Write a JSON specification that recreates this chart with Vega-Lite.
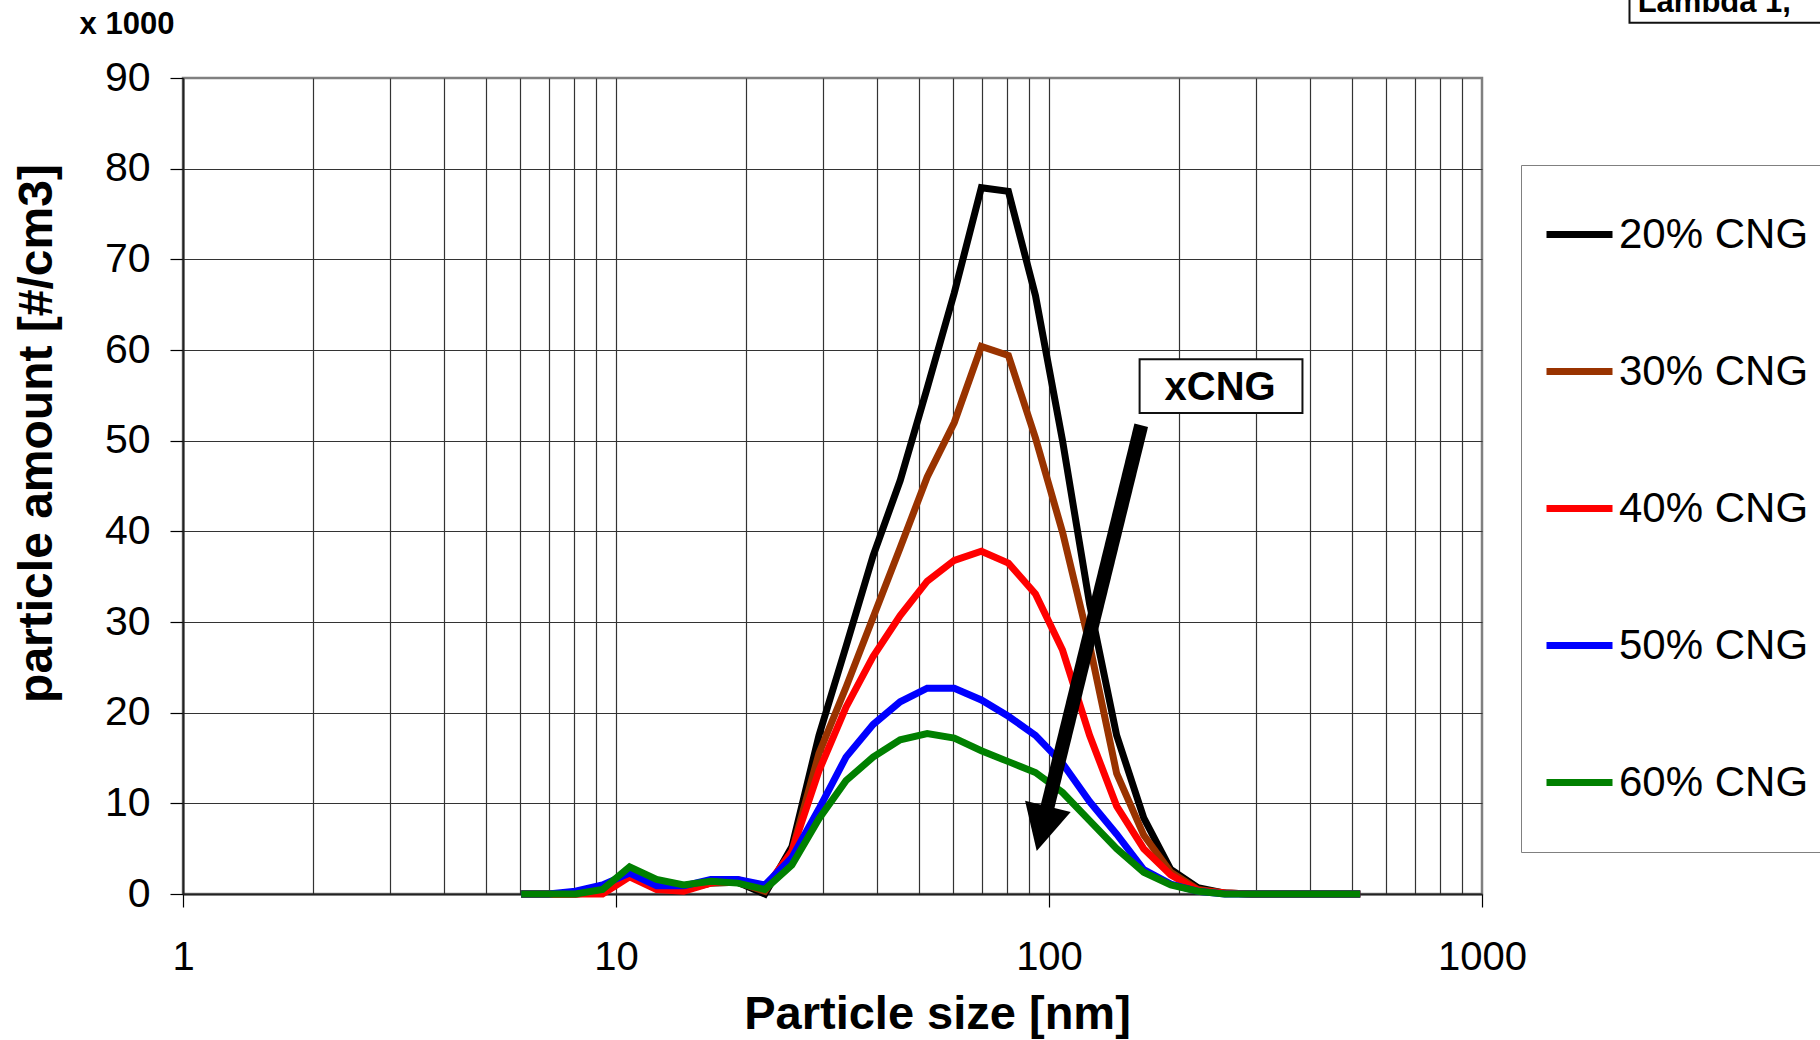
{
"$schema":"https://vega.github.io/schema/vega-lite/v6.json",
"width":1299,"height":816,
"autosize":{"type":"none"},
"padding":{"left":183,"top":78,"right":338,"bottom":146},
"background":"white",
"config":{"font":"Liberation Sans","view":{"stroke":"#808080","strokeWidth":2.5}},
"datasets":{
"psd":[
{"d":6.04,"n":0,"s":"20% CNG"},{"d":6.98,"n":0,"s":"20% CNG"},{"d":8.06,"n":0,"s":"20% CNG"},{"d":9.31,"n":0.3,"s":"20% CNG"},{"d":10.75,"n":2.5,"s":"20% CNG"},{"d":12.41,"n":1.0,"s":"20% CNG"},{"d":14.33,"n":0.6,"s":"20% CNG"},{"d":16.55,"n":1.2,"s":"20% CNG"},{"d":19.11,"n":1.3,"s":"20% CNG"},{"d":22.07,"n":0,"s":"20% CNG"},{"d":25.48,"n":5.2,"s":"20% CNG"},{"d":29.43,"n":17.5,"s":"20% CNG"},{"d":33.98,"n":27.3,"s":"20% CNG"},{"d":39.24,"n":37.3,"s":"20% CNG"},{"d":45.32,"n":45.6,"s":"20% CNG"},{"d":52.33,"n":55.8,"s":"20% CNG"},{"d":60.43,"n":66.3,"s":"20% CNG"},{"d":69.78,"n":77.9,"s":"20% CNG"},{"d":80.58,"n":77.5,"s":"20% CNG"},{"d":93.06,"n":66.0,"s":"20% CNG"},{"d":107.46,"n":50.0,"s":"20% CNG"},{"d":124.09,"n":32.0,"s":"20% CNG"},{"d":143.3,"n":17.5,"s":"20% CNG"},{"d":165.48,"n":8.4,"s":"20% CNG"},{"d":191.09,"n":2.7,"s":"20% CNG"},{"d":220.67,"n":0.7,"s":"20% CNG"},{"d":254.83,"n":0.1,"s":"20% CNG"},{"d":294.27,"n":0,"s":"20% CNG"},{"d":339.82,"n":0,"s":"20% CNG"},{"d":392.42,"n":0,"s":"20% CNG"},{"d":453.16,"n":0,"s":"20% CNG"},{"d":523.3,"n":0,"s":"20% CNG"},
{"d":6.04,"n":0,"s":"30% CNG"},{"d":6.98,"n":0,"s":"30% CNG"},{"d":8.06,"n":0,"s":"30% CNG"},{"d":9.31,"n":0.2,"s":"30% CNG"},{"d":10.75,"n":2.3,"s":"30% CNG"},{"d":12.41,"n":0.8,"s":"30% CNG"},{"d":14.33,"n":0.5,"s":"30% CNG"},{"d":16.55,"n":1.2,"s":"30% CNG"},{"d":19.11,"n":1.3,"s":"30% CNG"},{"d":22.07,"n":0.3,"s":"30% CNG"},{"d":25.48,"n":4.7,"s":"30% CNG"},{"d":29.43,"n":15.5,"s":"30% CNG"},{"d":33.98,"n":22.8,"s":"30% CNG"},{"d":39.24,"n":30.5,"s":"30% CNG"},{"d":45.32,"n":38.2,"s":"30% CNG"},{"d":52.33,"n":46.0,"s":"30% CNG"},{"d":60.43,"n":52.0,"s":"30% CNG"},{"d":69.78,"n":60.4,"s":"30% CNG"},{"d":80.58,"n":59.4,"s":"30% CNG"},{"d":93.06,"n":50.3,"s":"30% CNG"},{"d":107.46,"n":39.9,"s":"30% CNG"},{"d":124.09,"n":27.5,"s":"30% CNG"},{"d":143.3,"n":13.3,"s":"30% CNG"},{"d":165.48,"n":6.5,"s":"30% CNG"},{"d":191.09,"n":2.4,"s":"30% CNG"},{"d":220.67,"n":0.5,"s":"30% CNG"},{"d":254.83,"n":0.1,"s":"30% CNG"},{"d":294.27,"n":0,"s":"30% CNG"},{"d":339.82,"n":0,"s":"30% CNG"},{"d":392.42,"n":0,"s":"30% CNG"},{"d":453.16,"n":0,"s":"30% CNG"},{"d":523.3,"n":0,"s":"30% CNG"},
{"d":6.04,"n":0,"s":"40% CNG"},{"d":6.98,"n":0,"s":"40% CNG"},{"d":8.06,"n":0,"s":"40% CNG"},{"d":9.31,"n":0,"s":"40% CNG"},{"d":10.75,"n":1.9,"s":"40% CNG"},{"d":12.41,"n":0.5,"s":"40% CNG"},{"d":14.33,"n":0.3,"s":"40% CNG"},{"d":16.55,"n":1.2,"s":"40% CNG"},{"d":19.11,"n":1.6,"s":"40% CNG"},{"d":22.07,"n":0.6,"s":"40% CNG"},{"d":25.48,"n":4.7,"s":"40% CNG"},{"d":29.43,"n":13.6,"s":"40% CNG"},{"d":33.98,"n":20.6,"s":"40% CNG"},{"d":39.24,"n":26.2,"s":"40% CNG"},{"d":45.32,"n":30.7,"s":"40% CNG"},{"d":52.33,"n":34.5,"s":"40% CNG"},{"d":60.43,"n":36.8,"s":"40% CNG"},{"d":69.78,"n":37.8,"s":"40% CNG"},{"d":80.58,"n":36.5,"s":"40% CNG"},{"d":93.06,"n":33.1,"s":"40% CNG"},{"d":107.46,"n":26.9,"s":"40% CNG"},{"d":124.09,"n":17.5,"s":"40% CNG"},{"d":143.3,"n":9.7,"s":"40% CNG"},{"d":165.48,"n":5.0,"s":"40% CNG"},{"d":191.09,"n":2.1,"s":"40% CNG"},{"d":220.67,"n":0.4,"s":"40% CNG"},{"d":254.83,"n":0.1,"s":"40% CNG"},{"d":294.27,"n":0,"s":"40% CNG"},{"d":339.82,"n":0,"s":"40% CNG"},{"d":392.42,"n":0,"s":"40% CNG"},{"d":453.16,"n":0,"s":"40% CNG"},{"d":523.3,"n":0,"s":"40% CNG"},
{"d":6.04,"n":0,"s":"50% CNG"},{"d":6.98,"n":0,"s":"50% CNG"},{"d":8.06,"n":0.3,"s":"50% CNG"},{"d":9.31,"n":1.0,"s":"50% CNG"},{"d":10.75,"n":2.3,"s":"50% CNG"},{"d":12.41,"n":0.9,"s":"50% CNG"},{"d":14.33,"n":0.9,"s":"50% CNG"},{"d":16.55,"n":1.6,"s":"50% CNG"},{"d":19.11,"n":1.6,"s":"50% CNG"},{"d":22.07,"n":1.0,"s":"50% CNG"},{"d":25.48,"n":4.0,"s":"50% CNG"},{"d":29.43,"n":9.4,"s":"50% CNG"},{"d":33.98,"n":15.1,"s":"50% CNG"},{"d":39.24,"n":18.7,"s":"50% CNG"},{"d":45.32,"n":21.2,"s":"50% CNG"},{"d":52.33,"n":22.7,"s":"50% CNG"},{"d":60.43,"n":22.7,"s":"50% CNG"},{"d":69.78,"n":21.4,"s":"50% CNG"},{"d":80.58,"n":19.6,"s":"50% CNG"},{"d":93.06,"n":17.5,"s":"50% CNG"},{"d":107.46,"n":14.4,"s":"50% CNG"},{"d":124.09,"n":10.2,"s":"50% CNG"},{"d":143.3,"n":6.6,"s":"50% CNG"},{"d":165.48,"n":2.7,"s":"50% CNG"},{"d":191.09,"n":1.1,"s":"50% CNG"},{"d":220.67,"n":0.3,"s":"50% CNG"},{"d":254.83,"n":0,"s":"50% CNG"},{"d":294.27,"n":0,"s":"50% CNG"},{"d":339.82,"n":0,"s":"50% CNG"},{"d":392.42,"n":0,"s":"50% CNG"},{"d":453.16,"n":0,"s":"50% CNG"},{"d":523.3,"n":0,"s":"50% CNG"},
{"d":6.04,"n":0,"s":"60% CNG"},{"d":6.98,"n":0,"s":"60% CNG"},{"d":8.06,"n":0,"s":"60% CNG"},{"d":9.31,"n":0.5,"s":"60% CNG"},{"d":10.75,"n":3.0,"s":"60% CNG"},{"d":12.41,"n":1.6,"s":"60% CNG"},{"d":14.33,"n":1.0,"s":"60% CNG"},{"d":16.55,"n":1.4,"s":"60% CNG"},{"d":19.11,"n":1.2,"s":"60% CNG"},{"d":22.07,"n":0.5,"s":"60% CNG"},{"d":25.48,"n":3.2,"s":"60% CNG"},{"d":29.43,"n":8.3,"s":"60% CNG"},{"d":33.98,"n":12.5,"s":"60% CNG"},{"d":39.24,"n":15.1,"s":"60% CNG"},{"d":45.32,"n":17.0,"s":"60% CNG"},{"d":52.33,"n":17.7,"s":"60% CNG"},{"d":60.43,"n":17.2,"s":"60% CNG"},{"d":69.78,"n":15.8,"s":"60% CNG"},{"d":80.58,"n":14.6,"s":"60% CNG"},{"d":93.06,"n":13.4,"s":"60% CNG"},{"d":107.46,"n":11.2,"s":"60% CNG"},{"d":124.09,"n":8.1,"s":"60% CNG"},{"d":143.3,"n":5.0,"s":"60% CNG"},{"d":165.48,"n":2.4,"s":"60% CNG"},{"d":191.09,"n":1.0,"s":"60% CNG"},{"d":220.67,"n":0.3,"s":"60% CNG"},{"d":254.83,"n":0,"s":"60% CNG"},{"d":294.27,"n":0,"s":"60% CNG"},{"d":339.82,"n":0,"s":"60% CNG"},{"d":392.42,"n":0,"s":"60% CNG"},{"d":453.16,"n":0,"s":"60% CNG"},{"d":523.3,"n":0,"s":"60% CNG"}
],
"boxes":[{"d":161.9,"d2":384.9,"n":58.98,"n2":53.04},{"d":2191,"d2":8000,"n":96.08,"n2":110}],
"labels":[{"d":248.4,"n":54.45,"label":"xCNG"}],
"smalltext":[{"d":2288,"n":97.29,"label":"Lambda 1,"},{"d":0.577,"n":94.83,"label":"x 1000"}],
"shaft":[{"d":163.3,"n":51.7,"d2":98.6,"n2":9.1}],
"head":[{"d":96.5,"n":7.2}]
},
"encoding":{
"x":{"field":"d","type":"quantitative","scale":{"type":"log","domain":[1,1000],"nice":false},
 "axis":{"values":[1,2,3,4,5,6,7,8,9,10,20,30,40,50,60,70,80,90,100,200,300,400,500,600,700,800,900,1000],
 "labelExpr":"indexof([1,10,100,1000], datum.value) >= 0 ? format(datum.value, 'd') : ''",
 "labelFontSize":40,"labelPadding":30,"labelFlush":false,"labelOverlap":false,"labelColor":"black",
 "tickSize":13,"tickColor":"black","tickWidth":1.2,
 "tickOpacity":{"condition":{"test":"indexof([1,10,100,1000], datum.value) >= 0","value":1},"value":0},
 "grid":true,"gridColor":"#333333","gridWidth":1.2,
 "gridOpacity":{"condition":{"test":"datum.value >= 1000","value":0},"value":1},
 "domainColor":"#222222","domainWidth":2,
 "title":"Particle size [nm]","titleFontSize":47,"titleFontWeight":"bold","titleColor":"black",
 "titleX":754,"titleY":134,"titleBaseline":"alphabetic","titleAlign":"center"}},
"y":{"field":"n","type":"quantitative","scale":{"domain":[0,90],"nice":false,"zero":false},
 "axis":{"values":[0,10,20,30,40,50,60,70,80,90],
 "labelFontSize":41,"labelPadding":20,"labelColor":"black","labelFlush":false,
 "tickSize":13,"tickColor":"black","tickWidth":1.2,
 "grid":true,"gridColor":"#333333","gridWidth":1.2,
 "gridOpacity":{"condition":{"test":"datum.value >= 90 || datum.value <= 0","value":0},"value":1},
 "domainColor":"#222222","domainWidth":2,
 "title":"particle amount [#/cm3]","titleFontSize":48,"titleFontWeight":"bold","titleColor":"black",
 "titleX":-132,"titleY":355,"titleBaseline":"alphabetic","titleAlign":"center","titleAngle":-90}}
},
"layer":[
{"data":{"name":"psd"},"mark":{"type":"line","strokeWidth":7},
 "encoding":{"color":{"field":"s","type":"nominal",
  "scale":{"domain":["20% CNG","30% CNG","40% CNG","50% CNG","60% CNG"],"range":["#000000","#993300","#ff0000","#0000ff","#008000"]},
  "legend":{"orient":"none","legendX":1338,"legendY":87,"title":null,"symbolType":"stroke","symbolSize":4356,"symbolStrokeWidth":7,
   "labelFontSize":42,"labelColor":"black","labelOffset":3,"labelLimit":400,"padding":22,"rowPadding":42,"clipHeight":95,
   "fillColor":"white","strokeColor":"#808080"}}}},
{"data":{"name":"boxes"},"mark":{"type":"rect","fill":"white","stroke":"#111111","strokeWidth":2},
 "encoding":{"x2":{"field":"d2"},"y2":{"field":"n2"}}},
{"data":{"name":"labels"},"mark":{"type":"text","fontSize":40,"fontWeight":"bold","align":"center","baseline":"alphabetic","color":"black"},
 "encoding":{"text":{"field":"label"}}},
{"data":{"name":"smalltext"},"mark":{"type":"text","fontSize":31,"fontWeight":"bold","align":"left","baseline":"alphabetic","color":"black"},
 "encoding":{"text":{"field":"label"}}},
{"data":{"name":"shaft"},"mark":{"type":"rule","strokeWidth":14,"color":"black","strokeCap":"butt"},
 "encoding":{"x2":{"field":"d2"},"y2":{"field":"n2"}}},
{"data":{"name":"head"},"mark":{"type":"point","shape":"M-1,-0.98L1,-0.98L0,0.98Z","size":2209,"angle":14,"filled":true,"color":"black","opacity":1,"strokeWidth":0},
 "encoding":{}}
]
}
